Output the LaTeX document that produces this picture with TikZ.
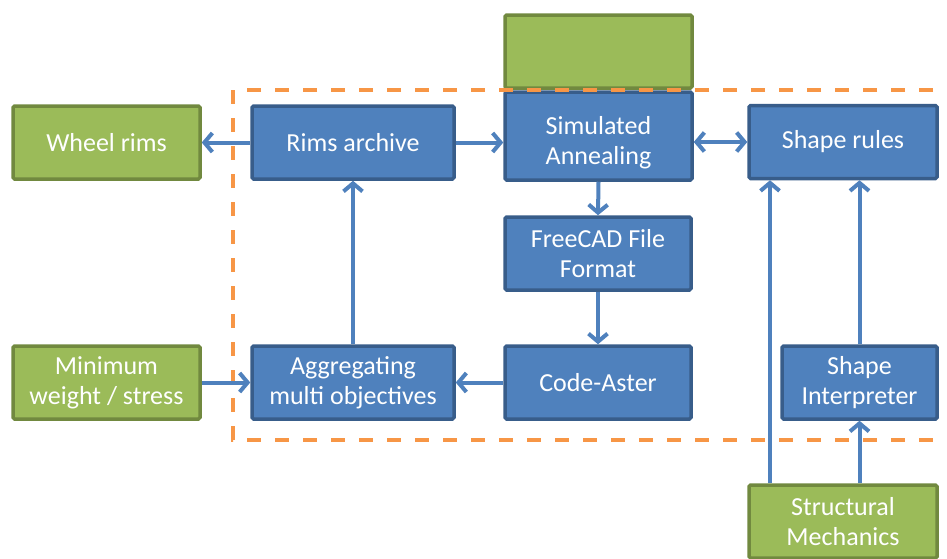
\documentclass[tikz,border=0pt]{standalone}
\usepackage{fontspec}
\setmainfont{Carlito}
\usetikzlibrary{arrows.meta}
\definecolor{bluefill}{HTML}{4F81BD}
\definecolor{blueline}{HTML}{385D8A}
\definecolor{greenfill}{HTML}{9BBB59}
\definecolor{greenline}{HTML}{71893F}
\definecolor{orangedash}{HTML}{F79646}
\begin{document}
\begin{tikzpicture}[x=1pt,y=-1pt,
  basebox/.style={line width=3.5pt, rounded corners=1.5pt, text=white,
    font=\fontsize{26}{30}\selectfont, align=center, inner sep=0pt,
    minimum height=73pt},
  bluebox/.style={basebox, draw=blueline, fill=bluefill},
  greenbox/.style={basebox, draw=greenline, fill=greenfill},
  tipb/.tip={Straight Barb[length=8pt,width=19pt,line width=4pt]},
  conn/.style={draw=bluefill, line width=4pt, -tipb},
  conn2/.style={draw=bluefill, line width=4pt, tipb-tipb},
  frame/.style={draw=orangedash, line width=3.5pt, dash pattern=on 14pt off 14pt}
]
\clip (0,0) rectangle (947,558);
\fill[white] (0,0) rectangle (947,558);

% top row
\node[greenbox, minimum width=187pt] (wr) at (106.5,142.5) {Wheel rims};
\node[bluebox, minimum width=202pt] (ra) at (353,142.5) {Rims archive};
\node[greenbox, minimum width=187pt] (top) at (598.5,51.5) {};
\node[bluebox, minimum width=187pt, minimum height=88pt] (sa) at (598.5,136) {};
\node[text=white, font=\fontsize{26}{30}\selectfont, align=center] (satext) at (598.5,143) {Simulated\\Annealing};
\node[bluebox, minimum width=188pt] (sr) at (843,142) {Shape rules};

% middle
\node[bluebox, minimum width=186pt] (fc) at (598,253.5) {FreeCAD File\\Format};

% lower row
\node[greenbox, minimum width=187pt] (mw) at (106.5,382.5) {Minimum\\weight / stress};
\node[bluebox, minimum width=202pt] (ag) at (353,382.5) {Aggregating\\multi objectives};
\node[bluebox, minimum width=186pt] (ca) at (598,382.5) {Code-Aster};
\node[bluebox, minimum width=155pt] (si) at (859.5,382.5) {Shape\\Interpreter};
\node[greenbox, minimum width=188pt] (sm) at (843,521.5) {Structural\\Mechanics};

% dashed frame
\draw[frame] (233,90) rectangle (975,440);

% connectors
\coordinate (xl) at (770,0);
\draw[conn] (ra.west) -- (wr.east);
\draw[conn] (ra.east) -- (ra.east -| sa.west);
\draw[conn2] (sr.west -| sa.east) -- (sr.west);
\draw[conn] (sa.south) -- (fc.north);
\draw[conn] (fc.south) -- (ca.north);
\draw[conn] (ca.west) -- (ag.east);
\draw[conn] (mw.east) -- (ag.west);
\draw[conn] (ag.north) -- (ra.south);
\draw[conn] (sm.north -| xl) -- (sr.south -| xl);
\draw[conn] (sm.north -| si.south) -- (si.south);
\draw[conn] (si.north) -- (si.north |- sr.south);
\end{tikzpicture}
\end{document}
